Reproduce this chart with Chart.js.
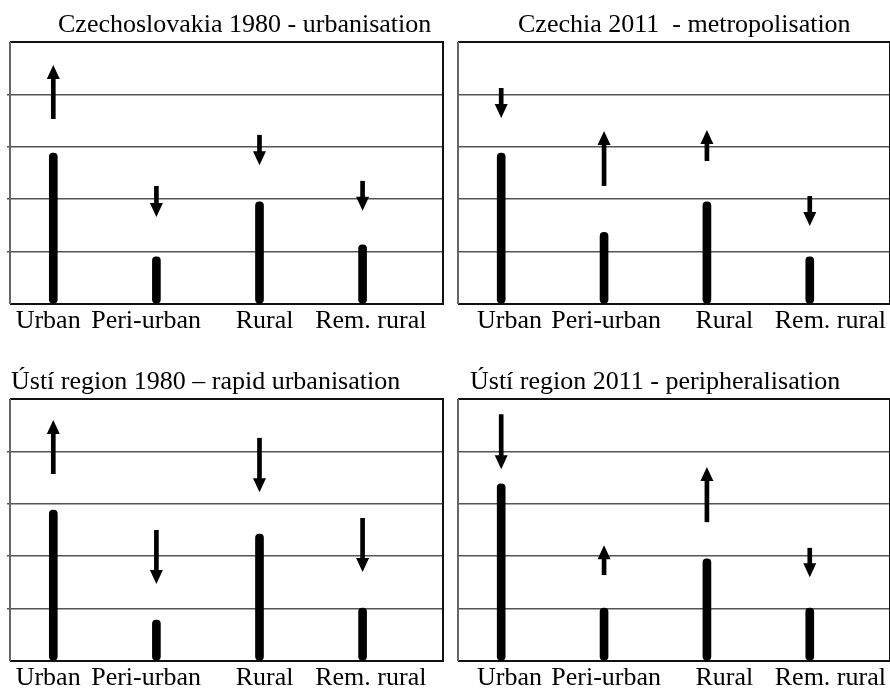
<!DOCTYPE html>
<html>
<head>
<meta charset="utf-8">
<script src="https://cdn.jsdelivr.net/npm/chart.js@4"></script>
<style>
  html, body { margin: 0; padding: 0; background: #fff; }
  .wrap { position: relative; width: 890px; height: 692px; overflow: hidden; }
  .wrap canvas { position: absolute; }
</style>
</head>
<body>
<div class="wrap">
  <canvas id="czechoslovakia1980" width="445" height="346" style="left:0;top:0"></canvas>
  <canvas id="czechia2011" width="445" height="346" style="left:445px;top:0"></canvas>
  <canvas id="usti1980" width="445" height="346" style="left:0;top:346px"></canvas>
  <canvas id="usti2011" width="445" height="346" style="left:445px;top:346px"></canvas>
</div>
<script>
// DATA
const categories = ['Urban', 'Peri-urban', 'Rural', 'Rem. rural'];
const yTicks = [0, 1, 2, 3, 4, 5];

// Czechoslovakia 1980
const cs1980Bars = [2.88, 0.90, 1.95, 1.13];
const cs1980From = [3.53, 2.25, 3.23, 2.35];
const cs1980To   = [4.56, 1.66, 2.65, 1.78];

// Czechia 2011
const cz2011Bars = [2.88, 1.37, 1.95, 0.90];
const cz2011From = [4.12, 2.25, 2.73, 2.06];
const cz2011To   = [3.55, 3.30, 3.32, 1.49];

// Usti region 1980
const us1980Bars = [2.88, 0.78, 2.42, 1.01];
const us1980From = [3.57, 2.50, 4.26, 2.73];
const us1980To   = [4.60, 1.47, 3.22, 1.70];

// Usti region 2011
const us2011Bars = [3.38, 1.01, 1.95, 1.01];
const us2011From = [4.71, 1.64, 2.65, 2.16];
const us2011To   = [3.66, 2.21, 3.70, 1.60];

const serif = '"Liberation Serif", "Times New Roman", serif';
const HEAD_LEN = 14;
const HEAD_HALF = 6.5;

// title text drawn at a fixed spot of the canvas
const panelTitle = {
    id: 'panelTitle',
    afterDraw(chart, args, opts) {
        const ctx = chart.ctx;
        ctx.save();
        ctx.font = '26px ' + serif;
        ctx.fillStyle = '#000';
        ctx.textBaseline = 'alphabetic';
        ctx.fillText(opts.text, opts.x, opts.y);
        ctx.restore();
    }
};

// box round the plot area
const frame = {
    id: 'frame',
    beforeDatasetsDraw(chart) {
        const a = chart.chartArea;
        const ctx = chart.ctx;
        ctx.save();
        ctx.lineWidth = 2;
        ctx.strokeStyle = '#111';
        ctx.beginPath();
        ctx.moveTo(a.left, a.top);
        ctx.lineTo(a.right, a.top);
        ctx.lineTo(a.right, a.bottom);
        ctx.lineTo(a.left, a.bottom);
        ctx.stroke();
        ctx.strokeStyle = '#666';
        ctx.beginPath();
        ctx.moveTo(a.left, a.top);
        ctx.lineTo(a.left, a.bottom);
        ctx.stroke();
        ctx.restore();
    }
};

// arrow heads on the shaft dataset (index 1); the shaft is cut where the head starts
function headGeom(chart, i) {
    const el = chart.getDatasetMeta(1).data[i];
    const d = chart.data.datasets[1].data[i];
    const y = chart.scales.y;
    const tail = y.getPixelForValue(d.y[0]);
    const tip = y.getPixelForValue(d.y[1]);
    const dir = d.y[1] > d.y[0] ? -1 : 1;
    return { x: el.x, tail: tail, tip: tip, base: tip - dir * HEAD_LEN, dir: dir };
}

const arrowHeads = {
    id: 'arrowHeads',
    beforeDatasetDraw(chart, args) {
        if (args.index !== 1) return;
        const ctx = chart.ctx;
        ctx.save();
        ctx.beginPath();
        chart.getDatasetMeta(1).data.forEach(function(el, i) {
            const g = headGeom(chart, i);
            const top = Math.min(g.tail, g.base + g.dir);
            const h = Math.abs(g.tail - (g.base + g.dir));
            ctx.rect(g.x - 4, top, 8, h);
        });
        ctx.clip();
    },
    afterDatasetDraw(chart, args) {
        if (args.index !== 1) return;
        const ctx = chart.ctx;
        ctx.restore();
        ctx.save();
        ctx.fillStyle = '#000';
        chart.getDatasetMeta(1).data.forEach(function(el, i) {
            const g = headGeom(chart, i);
            ctx.beginPath();
            ctx.moveTo(g.x, g.tip);
            ctx.lineTo(g.x - HEAD_HALF, g.base);
            ctx.lineTo(g.x + HEAD_HALF, g.base);
            ctx.closePath();
            ctx.fill();
        });
        ctx.restore();
    }
};

function makePanel(id, bars, from, to, title, area) {
    const ctx = document.getElementById(id).getContext('2d');
    return new Chart(ctx, {
        type: 'bar',
        data: {
            datasets: [{
                label: 'Level',
                data: bars.map((v, i) => ({ x: i, y: v })),
                backgroundColor: '#000',
                barThickness: 8,
                borderRadius: 4,
                borderSkipped: false,
                grouped: false
            }, {
                label: 'Change',
                data: from.map((v, i) => ({ x: i, y: [v, to[i]] })),
                backgroundColor: '#000',
                barThickness: 4,
                grouped: false
            }]
        },
        options: {
            responsive: false,
            animation: false,
            layout: {
                padding: { top: area.top, right: 445 - area.right, left: 0, bottom: 0 }
            },
            scales: {
                x: {
                    type: 'linear',
                    offset: false,
                    min: -0.42,
                    max: 3.78,
                    // category labels sit a little off the bars, as in the original
                    afterBuildTicks: function(scale) {
                        scale.ticks = categories.map((c, i) => ({ value: i + area.labelShift[i] }));
                    },
                    afterFit: function(scale) { scale.height = 346 - area.bottom; },
                    ticks: {
                        padding: 2,
                        autoSkip: false,
                        maxRotation: 0,
                        minRotation: 0,
                        color: '#000',
                        font: { family: serif, size: 26 },
                        callback: function(value, index) { return categories[index]; }
                    },
                    grid: { display: false, drawTicks: false },
                    border: { display: false }
                },
                y: {
                    min: 0,
                    max: 5,
                    afterBuildTicks: function(scale) {
                        scale.ticks = yTicks.map(v => ({ value: v }));
                    },
                    afterFit: function(scale) { scale.width = area.left; },
                    ticks: { display: false },
                    grid: {
                        color: function(c) {
                            return (c.tick.value === 0 || c.tick.value === 5) ? 'rgba(0,0,0,0)' : '#555';
                        },
                        lineWidth: 1.5,
                        drawTicks: area.ticks,
                        tickLength: 3
                    },
                    border: { display: false }
                }
            },
            plugins: {
                legend: { display: false },
                tooltip: { enabled: true },
                panelTitle: title
            }
        },
        plugins: [frame, arrowHeads, panelTitle]
    });
}

const leftShift = [-0.05, -0.1, 0.05, 0.08];
const rightShift = [0.08, 0.02, 0.17, 0.2];

// CZECHOSLOVAKIA 1980
const chartCs1980 = makePanel('czechoslovakia1980', cs1980Bars, cs1980From, cs1980To,
    { text: 'Czechoslovakia 1980 - urbanisation', x: 58, y: 32 },
    { left: 10, right: 443, top: 42, bottom: 304, ticks: true, labelShift: leftShift });

// CZECHIA 2011
const chartCz2011 = makePanel('czechia2011', cz2011Bars, cz2011From, cz2011To,
    { text: 'Czechia 2011  - metropolisation', x: 73, y: 32 },
    { left: 13, right: 445, top: 42, bottom: 304, ticks: false, labelShift: rightShift });

// USTI REGION 1980
const chartUs1980 = makePanel('usti1980', us1980Bars, us1980From, us1980To,
    { text: 'Ústí region 1980 – rapid urbanisation', x: 11, y: 43 },
    { left: 10, right: 443, top: 53, bottom: 315, ticks: true, labelShift: leftShift });

// USTI REGION 2011
const chartUs2011 = makePanel('usti2011', us2011Bars, us2011From, us2011To,
    { text: 'Ústí region 2011 - peripheralisation', x: 25, y: 43 },
    { left: 13, right: 445, top: 53, bottom: 315, ticks: false, labelShift: rightShift });
</script>
</body>
</html>
